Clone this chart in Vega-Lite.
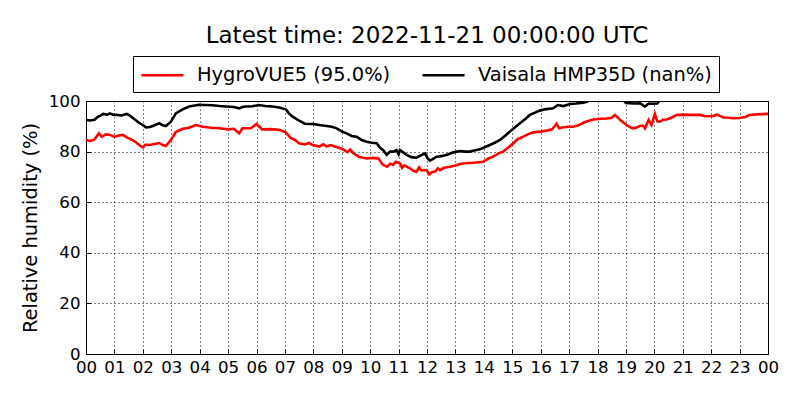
{
  "$schema": "https://vega.github.io/schema/vega-lite/v6.json",
  "description": "Relative humidity from two sensors over one day.",
  "width": 682,
  "height": 253,
  "autosize": {"type": "none"},
  "padding": {"left": 86, "top": 101, "right": 32, "bottom": 46},
  "title": {
    "text": "Latest time: 2022-11-21 00:00:00 UTC",
    "frame": "group",
    "anchor": "middle",
    "offset": 8,
    "fontSize": 23,
    "fontWeight": "normal",
    "color": "black"
  },
  "config": {
    "font": "DejaVu Sans",
    "view": {"stroke": "black", "strokeWidth": 1},
    "axis": {
      "labelFontSize": 16.67,
      "labelColor": "black",
      "labelFlush": false,
      "labelOverlap": false,
      "domain": false,
      "grid": true,
      "gridColor": "black",
      "gridDash": [1, 3],
      "gridOpacity": 1,
      "gridWidth": 1,
      "tickColor": "black",
      "tickSize": -5,
      "titleFontSize": 19.44,
      "titleFontWeight": "normal",
      "titleColor": "black"
    }
  },
  "data": {
    "values": [
      {"t": 0.0, "rh": 84.6, "sensor": "HygroVUE5 (95.0%)"},
      {"t": 0.15, "rh": 84.2, "sensor": "HygroVUE5 (95.0%)"},
      {"t": 0.3, "rh": 84.8, "sensor": "HygroVUE5 (95.0%)"},
      {"t": 0.45, "rh": 87.2, "sensor": "HygroVUE5 (95.0%)"},
      {"t": 0.55, "rh": 85.9, "sensor": "HygroVUE5 (95.0%)"},
      {"t": 0.7, "rh": 86.8, "sensor": "HygroVUE5 (95.0%)"},
      {"t": 0.85, "rh": 86.6, "sensor": "HygroVUE5 (95.0%)"},
      {"t": 1.0, "rh": 85.8, "sensor": "HygroVUE5 (95.0%)"},
      {"t": 1.15, "rh": 86.4, "sensor": "HygroVUE5 (95.0%)"},
      {"t": 1.3, "rh": 86.6, "sensor": "HygroVUE5 (95.0%)"},
      {"t": 1.45, "rh": 85.5, "sensor": "HygroVUE5 (95.0%)"},
      {"t": 1.6, "rh": 84.8, "sensor": "HygroVUE5 (95.0%)"},
      {"t": 1.78, "rh": 83.5, "sensor": "HygroVUE5 (95.0%)"},
      {"t": 1.9, "rh": 82.3, "sensor": "HygroVUE5 (95.0%)"},
      {"t": 2.0, "rh": 81.7, "sensor": "HygroVUE5 (95.0%)"},
      {"t": 2.1, "rh": 82.8, "sensor": "HygroVUE5 (95.0%)"},
      {"t": 2.23, "rh": 82.6, "sensor": "HygroVUE5 (95.0%)"},
      {"t": 2.4, "rh": 83.0, "sensor": "HygroVUE5 (95.0%)"},
      {"t": 2.58, "rh": 83.4, "sensor": "HygroVUE5 (95.0%)"},
      {"t": 2.7, "rh": 82.6, "sensor": "HygroVUE5 (95.0%)"},
      {"t": 2.81, "rh": 82.2, "sensor": "HygroVUE5 (95.0%)"},
      {"t": 2.99, "rh": 84.6, "sensor": "HygroVUE5 (95.0%)"},
      {"t": 3.16, "rh": 87.7, "sensor": "HygroVUE5 (95.0%)"},
      {"t": 3.4, "rh": 89.0, "sensor": "HygroVUE5 (95.0%)"},
      {"t": 3.6, "rh": 89.3, "sensor": "HygroVUE5 (95.0%)"},
      {"t": 3.86, "rh": 90.5, "sensor": "HygroVUE5 (95.0%)"},
      {"t": 4.1, "rh": 89.8, "sensor": "HygroVUE5 (95.0%)"},
      {"t": 4.4, "rh": 89.4, "sensor": "HygroVUE5 (95.0%)"},
      {"t": 4.69, "rh": 89.2, "sensor": "HygroVUE5 (95.0%)"},
      {"t": 5.0, "rh": 88.8, "sensor": "HygroVUE5 (95.0%)"},
      {"t": 5.2, "rh": 89.0, "sensor": "HygroVUE5 (95.0%)"},
      {"t": 5.39, "rh": 87.2, "sensor": "HygroVUE5 (95.0%)"},
      {"t": 5.5, "rh": 89.2, "sensor": "HygroVUE5 (95.0%)"},
      {"t": 5.8, "rh": 89.2, "sensor": "HygroVUE5 (95.0%)"},
      {"t": 6.0, "rh": 90.9, "sensor": "HygroVUE5 (95.0%)"},
      {"t": 6.2, "rh": 88.8, "sensor": "HygroVUE5 (95.0%)"},
      {"t": 6.5, "rh": 88.9, "sensor": "HygroVUE5 (95.0%)"},
      {"t": 6.8, "rh": 88.6, "sensor": "HygroVUE5 (95.0%)"},
      {"t": 7.03, "rh": 87.6, "sensor": "HygroVUE5 (95.0%)"},
      {"t": 7.2, "rh": 85.4, "sensor": "HygroVUE5 (95.0%)"},
      {"t": 7.35, "rh": 84.6, "sensor": "HygroVUE5 (95.0%)"},
      {"t": 7.5, "rh": 83.3, "sensor": "HygroVUE5 (95.0%)"},
      {"t": 7.7, "rh": 82.8, "sensor": "HygroVUE5 (95.0%)"},
      {"t": 7.85, "rh": 83.4, "sensor": "HygroVUE5 (95.0%)"},
      {"t": 7.98, "rh": 82.6, "sensor": "HygroVUE5 (95.0%)"},
      {"t": 8.21, "rh": 82.0, "sensor": "HygroVUE5 (95.0%)"},
      {"t": 8.35, "rh": 82.9, "sensor": "HygroVUE5 (95.0%)"},
      {"t": 8.47, "rh": 82.0, "sensor": "HygroVUE5 (95.0%)"},
      {"t": 8.6, "rh": 82.6, "sensor": "HygroVUE5 (95.0%)"},
      {"t": 8.82, "rh": 81.8, "sensor": "HygroVUE5 (95.0%)"},
      {"t": 9.05, "rh": 80.9, "sensor": "HygroVUE5 (95.0%)"},
      {"t": 9.2, "rh": 79.8, "sensor": "HygroVUE5 (95.0%)"},
      {"t": 9.3, "rh": 80.8, "sensor": "HygroVUE5 (95.0%)"},
      {"t": 9.41, "rh": 79.3, "sensor": "HygroVUE5 (95.0%)"},
      {"t": 9.6, "rh": 78.0, "sensor": "HygroVUE5 (95.0%)"},
      {"t": 9.88, "rh": 77.3, "sensor": "HygroVUE5 (95.0%)"},
      {"t": 10.1, "rh": 77.5, "sensor": "HygroVUE5 (95.0%)"},
      {"t": 10.29, "rh": 77.3, "sensor": "HygroVUE5 (95.0%)"},
      {"t": 10.4, "rh": 75.5, "sensor": "HygroVUE5 (95.0%)"},
      {"t": 10.46, "rh": 74.7, "sensor": "HygroVUE5 (95.0%)"},
      {"t": 10.6, "rh": 74.0, "sensor": "HygroVUE5 (95.0%)"},
      {"t": 10.7, "rh": 75.2, "sensor": "HygroVUE5 (95.0%)"},
      {"t": 10.81, "rh": 74.7, "sensor": "HygroVUE5 (95.0%)"},
      {"t": 10.9, "rh": 76.0, "sensor": "HygroVUE5 (95.0%)"},
      {"t": 11.05, "rh": 75.4, "sensor": "HygroVUE5 (95.0%)"},
      {"t": 11.12, "rh": 73.6, "sensor": "HygroVUE5 (95.0%)"},
      {"t": 11.2, "rh": 74.6, "sensor": "HygroVUE5 (95.0%)"},
      {"t": 11.4, "rh": 73.4, "sensor": "HygroVUE5 (95.0%)"},
      {"t": 11.5, "rh": 72.5, "sensor": "HygroVUE5 (95.0%)"},
      {"t": 11.63, "rh": 72.0, "sensor": "HygroVUE5 (95.0%)"},
      {"t": 11.72, "rh": 73.8, "sensor": "HygroVUE5 (95.0%)"},
      {"t": 11.8, "rh": 72.6, "sensor": "HygroVUE5 (95.0%)"},
      {"t": 11.99, "rh": 72.7, "sensor": "HygroVUE5 (95.0%)"},
      {"t": 12.08, "rh": 71.0, "sensor": "HygroVUE5 (95.0%)"},
      {"t": 12.16, "rh": 71.8, "sensor": "HygroVUE5 (95.0%)"},
      {"t": 12.3, "rh": 72.2, "sensor": "HygroVUE5 (95.0%)"},
      {"t": 12.38, "rh": 73.4, "sensor": "HygroVUE5 (95.0%)"},
      {"t": 12.46, "rh": 72.7, "sensor": "HygroVUE5 (95.0%)"},
      {"t": 12.6, "rh": 73.6, "sensor": "HygroVUE5 (95.0%)"},
      {"t": 12.81, "rh": 74.0, "sensor": "HygroVUE5 (95.0%)"},
      {"t": 13.0, "rh": 74.5, "sensor": "HygroVUE5 (95.0%)"},
      {"t": 13.16, "rh": 75.1, "sensor": "HygroVUE5 (95.0%)"},
      {"t": 13.4, "rh": 75.5, "sensor": "HygroVUE5 (95.0%)"},
      {"t": 13.63, "rh": 75.6, "sensor": "HygroVUE5 (95.0%)"},
      {"t": 13.98, "rh": 76.0, "sensor": "HygroVUE5 (95.0%)"},
      {"t": 14.15, "rh": 77.2, "sensor": "HygroVUE5 (95.0%)"},
      {"t": 14.33, "rh": 78.0, "sensor": "HygroVUE5 (95.0%)"},
      {"t": 14.5, "rh": 79.2, "sensor": "HygroVUE5 (95.0%)"},
      {"t": 14.68, "rh": 80.0, "sensor": "HygroVUE5 (95.0%)"},
      {"t": 14.85, "rh": 81.5, "sensor": "HygroVUE5 (95.0%)"},
      {"t": 15.04, "rh": 83.3, "sensor": "HygroVUE5 (95.0%)"},
      {"t": 15.2, "rh": 85.0, "sensor": "HygroVUE5 (95.0%)"},
      {"t": 15.39, "rh": 85.9, "sensor": "HygroVUE5 (95.0%)"},
      {"t": 15.55, "rh": 86.8, "sensor": "HygroVUE5 (95.0%)"},
      {"t": 15.74, "rh": 87.6, "sensor": "HygroVUE5 (95.0%)"},
      {"t": 16.0, "rh": 87.9, "sensor": "HygroVUE5 (95.0%)"},
      {"t": 16.2, "rh": 88.3, "sensor": "HygroVUE5 (95.0%)"},
      {"t": 16.4, "rh": 88.8, "sensor": "HygroVUE5 (95.0%)"},
      {"t": 16.56, "rh": 91.0, "sensor": "HygroVUE5 (95.0%)"},
      {"t": 16.65, "rh": 89.2, "sensor": "HygroVUE5 (95.0%)"},
      {"t": 16.79, "rh": 89.6, "sensor": "HygroVUE5 (95.0%)"},
      {"t": 17.0, "rh": 89.8, "sensor": "HygroVUE5 (95.0%)"},
      {"t": 17.15, "rh": 89.8, "sensor": "HygroVUE5 (95.0%)"},
      {"t": 17.35, "rh": 90.5, "sensor": "HygroVUE5 (95.0%)"},
      {"t": 17.5, "rh": 91.4, "sensor": "HygroVUE5 (95.0%)"},
      {"t": 17.7, "rh": 92.2, "sensor": "HygroVUE5 (95.0%)"},
      {"t": 17.85, "rh": 92.7, "sensor": "HygroVUE5 (95.0%)"},
      {"t": 18.1, "rh": 93.0, "sensor": "HygroVUE5 (95.0%)"},
      {"t": 18.32, "rh": 93.1, "sensor": "HygroVUE5 (95.0%)"},
      {"t": 18.5, "rh": 93.4, "sensor": "HygroVUE5 (95.0%)"},
      {"t": 18.61, "rh": 94.5, "sensor": "HygroVUE5 (95.0%)"},
      {"t": 18.7, "rh": 93.6, "sensor": "HygroVUE5 (95.0%)"},
      {"t": 18.8, "rh": 92.5, "sensor": "HygroVUE5 (95.0%)"},
      {"t": 19.02, "rh": 90.5, "sensor": "HygroVUE5 (95.0%)"},
      {"t": 19.15, "rh": 89.6, "sensor": "HygroVUE5 (95.0%)"},
      {"t": 19.26, "rh": 89.2, "sensor": "HygroVUE5 (95.0%)"},
      {"t": 19.4, "rh": 89.6, "sensor": "HygroVUE5 (95.0%)"},
      {"t": 19.49, "rh": 90.1, "sensor": "HygroVUE5 (95.0%)"},
      {"t": 19.6, "rh": 90.3, "sensor": "HygroVUE5 (95.0%)"},
      {"t": 19.67, "rh": 89.2, "sensor": "HygroVUE5 (95.0%)"},
      {"t": 19.8, "rh": 92.5, "sensor": "HygroVUE5 (95.0%)"},
      {"t": 19.9, "rh": 90.5, "sensor": "HygroVUE5 (95.0%)"},
      {"t": 20.02, "rh": 94.9, "sensor": "HygroVUE5 (95.0%)"},
      {"t": 20.1, "rh": 92.0, "sensor": "HygroVUE5 (95.0%)"},
      {"t": 20.2, "rh": 91.8, "sensor": "HygroVUE5 (95.0%)"},
      {"t": 20.3, "rh": 92.6, "sensor": "HygroVUE5 (95.0%)"},
      {"t": 20.43, "rh": 92.7, "sensor": "HygroVUE5 (95.0%)"},
      {"t": 20.6, "rh": 93.4, "sensor": "HygroVUE5 (95.0%)"},
      {"t": 20.78, "rh": 94.5, "sensor": "HygroVUE5 (95.0%)"},
      {"t": 21.0, "rh": 94.6, "sensor": "HygroVUE5 (95.0%)"},
      {"t": 21.3, "rh": 94.5, "sensor": "HygroVUE5 (95.0%)"},
      {"t": 21.6, "rh": 94.5, "sensor": "HygroVUE5 (95.0%)"},
      {"t": 21.8, "rh": 94.0, "sensor": "HygroVUE5 (95.0%)"},
      {"t": 22.07, "rh": 94.1, "sensor": "HygroVUE5 (95.0%)"},
      {"t": 22.2, "rh": 94.6, "sensor": "HygroVUE5 (95.0%)"},
      {"t": 22.43, "rh": 93.5, "sensor": "HygroVUE5 (95.0%)"},
      {"t": 22.6, "rh": 93.4, "sensor": "HygroVUE5 (95.0%)"},
      {"t": 22.8, "rh": 93.2, "sensor": "HygroVUE5 (95.0%)"},
      {"t": 23.0, "rh": 93.3, "sensor": "HygroVUE5 (95.0%)"},
      {"t": 23.2, "rh": 93.7, "sensor": "HygroVUE5 (95.0%)"},
      {"t": 23.36, "rh": 94.5, "sensor": "HygroVUE5 (95.0%)"},
      {"t": 23.6, "rh": 94.7, "sensor": "HygroVUE5 (95.0%)"},
      {"t": 24.0, "rh": 94.9, "sensor": "HygroVUE5 (95.0%)"},
      {"t": 0.0, "rh": 92.5, "sensor": "Vaisala HMP35D (nan%)"},
      {"t": 0.15, "rh": 92.3, "sensor": "Vaisala HMP35D (nan%)"},
      {"t": 0.3, "rh": 92.6, "sensor": "Vaisala HMP35D (nan%)"},
      {"t": 0.4, "rh": 93.6, "sensor": "Vaisala HMP35D (nan%)"},
      {"t": 0.49, "rh": 94.1, "sensor": "Vaisala HMP35D (nan%)"},
      {"t": 0.61, "rh": 94.9, "sensor": "Vaisala HMP35D (nan%)"},
      {"t": 0.75, "rh": 94.6, "sensor": "Vaisala HMP35D (nan%)"},
      {"t": 0.84, "rh": 95.1, "sensor": "Vaisala HMP35D (nan%)"},
      {"t": 0.95, "rh": 94.6, "sensor": "Vaisala HMP35D (nan%)"},
      {"t": 1.08, "rh": 94.5, "sensor": "Vaisala HMP35D (nan%)"},
      {"t": 1.25, "rh": 94.3, "sensor": "Vaisala HMP35D (nan%)"},
      {"t": 1.43, "rh": 94.9, "sensor": "Vaisala HMP35D (nan%)"},
      {"t": 1.55, "rh": 94.2, "sensor": "Vaisala HMP35D (nan%)"},
      {"t": 1.66, "rh": 93.2, "sensor": "Vaisala HMP35D (nan%)"},
      {"t": 1.84, "rh": 91.6, "sensor": "Vaisala HMP35D (nan%)"},
      {"t": 2.0, "rh": 90.5, "sensor": "Vaisala HMP35D (nan%)"},
      {"t": 2.11, "rh": 89.6, "sensor": "Vaisala HMP35D (nan%)"},
      {"t": 2.25, "rh": 89.7, "sensor": "Vaisala HMP35D (nan%)"},
      {"t": 2.35, "rh": 90.1, "sensor": "Vaisala HMP35D (nan%)"},
      {"t": 2.45, "rh": 90.6, "sensor": "Vaisala HMP35D (nan%)"},
      {"t": 2.58, "rh": 91.2, "sensor": "Vaisala HMP35D (nan%)"},
      {"t": 2.7, "rh": 90.4, "sensor": "Vaisala HMP35D (nan%)"},
      {"t": 2.81, "rh": 90.1, "sensor": "Vaisala HMP35D (nan%)"},
      {"t": 2.99, "rh": 91.8, "sensor": "Vaisala HMP35D (nan%)"},
      {"t": 3.16, "rh": 95.1, "sensor": "Vaisala HMP35D (nan%)"},
      {"t": 3.4, "rh": 96.7, "sensor": "Vaisala HMP35D (nan%)"},
      {"t": 3.63, "rh": 97.8, "sensor": "Vaisala HMP35D (nan%)"},
      {"t": 3.98, "rh": 98.5, "sensor": "Vaisala HMP35D (nan%)"},
      {"t": 4.2, "rh": 98.4, "sensor": "Vaisala HMP35D (nan%)"},
      {"t": 4.45, "rh": 98.3, "sensor": "Vaisala HMP35D (nan%)"},
      {"t": 4.7, "rh": 98.0, "sensor": "Vaisala HMP35D (nan%)"},
      {"t": 4.92, "rh": 97.8, "sensor": "Vaisala HMP35D (nan%)"},
      {"t": 5.2, "rh": 97.6, "sensor": "Vaisala HMP35D (nan%)"},
      {"t": 5.39, "rh": 97.1, "sensor": "Vaisala HMP35D (nan%)"},
      {"t": 5.5, "rh": 97.6, "sensor": "Vaisala HMP35D (nan%)"},
      {"t": 5.62, "rh": 97.8, "sensor": "Vaisala HMP35D (nan%)"},
      {"t": 5.85, "rh": 97.9, "sensor": "Vaisala HMP35D (nan%)"},
      {"t": 6.09, "rh": 98.4, "sensor": "Vaisala HMP35D (nan%)"},
      {"t": 6.3, "rh": 98.0, "sensor": "Vaisala HMP35D (nan%)"},
      {"t": 6.56, "rh": 97.8, "sensor": "Vaisala HMP35D (nan%)"},
      {"t": 6.8, "rh": 97.4, "sensor": "Vaisala HMP35D (nan%)"},
      {"t": 7.03, "rh": 96.7, "sensor": "Vaisala HMP35D (nan%)"},
      {"t": 7.15, "rh": 95.0, "sensor": "Vaisala HMP35D (nan%)"},
      {"t": 7.27, "rh": 93.8, "sensor": "Vaisala HMP35D (nan%)"},
      {"t": 7.5, "rh": 92.2, "sensor": "Vaisala HMP35D (nan%)"},
      {"t": 7.7, "rh": 91.0, "sensor": "Vaisala HMP35D (nan%)"},
      {"t": 7.86, "rh": 90.9, "sensor": "Vaisala HMP35D (nan%)"},
      {"t": 8.0, "rh": 90.9, "sensor": "Vaisala HMP35D (nan%)"},
      {"t": 8.21, "rh": 90.5, "sensor": "Vaisala HMP35D (nan%)"},
      {"t": 8.47, "rh": 90.1, "sensor": "Vaisala HMP35D (nan%)"},
      {"t": 8.65, "rh": 89.8, "sensor": "Vaisala HMP35D (nan%)"},
      {"t": 8.82, "rh": 89.2, "sensor": "Vaisala HMP35D (nan%)"},
      {"t": 9.0, "rh": 88.0, "sensor": "Vaisala HMP35D (nan%)"},
      {"t": 9.17, "rh": 87.2, "sensor": "Vaisala HMP35D (nan%)"},
      {"t": 9.35, "rh": 86.2, "sensor": "Vaisala HMP35D (nan%)"},
      {"t": 9.52, "rh": 85.9, "sensor": "Vaisala HMP35D (nan%)"},
      {"t": 9.7, "rh": 84.6, "sensor": "Vaisala HMP35D (nan%)"},
      {"t": 9.88, "rh": 83.9, "sensor": "Vaisala HMP35D (nan%)"},
      {"t": 10.05, "rh": 83.5, "sensor": "Vaisala HMP35D (nan%)"},
      {"t": 10.23, "rh": 83.3, "sensor": "Vaisala HMP35D (nan%)"},
      {"t": 10.35, "rh": 81.5, "sensor": "Vaisala HMP35D (nan%)"},
      {"t": 10.46, "rh": 80.6, "sensor": "Vaisala HMP35D (nan%)"},
      {"t": 10.58, "rh": 78.7, "sensor": "Vaisala HMP35D (nan%)"},
      {"t": 10.7, "rh": 80.0, "sensor": "Vaisala HMP35D (nan%)"},
      {"t": 10.81, "rh": 80.0, "sensor": "Vaisala HMP35D (nan%)"},
      {"t": 10.93, "rh": 80.6, "sensor": "Vaisala HMP35D (nan%)"},
      {"t": 11.0, "rh": 79.0, "sensor": "Vaisala HMP35D (nan%)"},
      {"t": 11.05, "rh": 80.6, "sensor": "Vaisala HMP35D (nan%)"},
      {"t": 11.15, "rh": 79.8, "sensor": "Vaisala HMP35D (nan%)"},
      {"t": 11.28, "rh": 78.7, "sensor": "Vaisala HMP35D (nan%)"},
      {"t": 11.45, "rh": 77.8, "sensor": "Vaisala HMP35D (nan%)"},
      {"t": 11.63, "rh": 77.6, "sensor": "Vaisala HMP35D (nan%)"},
      {"t": 11.75, "rh": 78.3, "sensor": "Vaisala HMP35D (nan%)"},
      {"t": 11.93, "rh": 79.3, "sensor": "Vaisala HMP35D (nan%)"},
      {"t": 12.02, "rh": 77.4, "sensor": "Vaisala HMP35D (nan%)"},
      {"t": 12.1, "rh": 76.4, "sensor": "Vaisala HMP35D (nan%)"},
      {"t": 12.2, "rh": 77.0, "sensor": "Vaisala HMP35D (nan%)"},
      {"t": 12.34, "rh": 78.0, "sensor": "Vaisala HMP35D (nan%)"},
      {"t": 12.5, "rh": 78.2, "sensor": "Vaisala HMP35D (nan%)"},
      {"t": 12.69, "rh": 78.7, "sensor": "Vaisala HMP35D (nan%)"},
      {"t": 12.9, "rh": 79.6, "sensor": "Vaisala HMP35D (nan%)"},
      {"t": 13.16, "rh": 80.2, "sensor": "Vaisala HMP35D (nan%)"},
      {"t": 13.35, "rh": 80.0, "sensor": "Vaisala HMP35D (nan%)"},
      {"t": 13.51, "rh": 80.0, "sensor": "Vaisala HMP35D (nan%)"},
      {"t": 13.7, "rh": 80.5, "sensor": "Vaisala HMP35D (nan%)"},
      {"t": 13.86, "rh": 80.9, "sensor": "Vaisala HMP35D (nan%)"},
      {"t": 14.05, "rh": 81.8, "sensor": "Vaisala HMP35D (nan%)"},
      {"t": 14.21, "rh": 82.6, "sensor": "Vaisala HMP35D (nan%)"},
      {"t": 14.4, "rh": 83.6, "sensor": "Vaisala HMP35D (nan%)"},
      {"t": 14.57, "rh": 84.6, "sensor": "Vaisala HMP35D (nan%)"},
      {"t": 14.75, "rh": 86.3, "sensor": "Vaisala HMP35D (nan%)"},
      {"t": 14.92, "rh": 87.9, "sensor": "Vaisala HMP35D (nan%)"},
      {"t": 15.1, "rh": 89.6, "sensor": "Vaisala HMP35D (nan%)"},
      {"t": 15.27, "rh": 91.2, "sensor": "Vaisala HMP35D (nan%)"},
      {"t": 15.45, "rh": 92.8, "sensor": "Vaisala HMP35D (nan%)"},
      {"t": 15.62, "rh": 94.5, "sensor": "Vaisala HMP35D (nan%)"},
      {"t": 15.8, "rh": 95.4, "sensor": "Vaisala HMP35D (nan%)"},
      {"t": 15.97, "rh": 96.2, "sensor": "Vaisala HMP35D (nan%)"},
      {"t": 16.2, "rh": 96.8, "sensor": "Vaisala HMP35D (nan%)"},
      {"t": 16.44, "rh": 97.1, "sensor": "Vaisala HMP35D (nan%)"},
      {"t": 16.6, "rh": 98.4, "sensor": "Vaisala HMP35D (nan%)"},
      {"t": 16.8, "rh": 98.0, "sensor": "Vaisala HMP35D (nan%)"},
      {"t": 17.03, "rh": 98.8, "sensor": "Vaisala HMP35D (nan%)"},
      {"t": 17.25, "rh": 99.0, "sensor": "Vaisala HMP35D (nan%)"},
      {"t": 17.5, "rh": 99.3, "sensor": "Vaisala HMP35D (nan%)"},
      {"t": 17.65, "rh": 99.8, "sensor": "Vaisala HMP35D (nan%)"},
      {"t": 17.8, "rh": 101.5, "sensor": "Vaisala HMP35D (nan%)"},
      {"t": 18.3, "rh": 102.5, "sensor": "Vaisala HMP35D (nan%)"},
      {"t": 18.85, "rh": 101.0, "sensor": "Vaisala HMP35D (nan%)"},
      {"t": 19.0, "rh": 99.2, "sensor": "Vaisala HMP35D (nan%)"},
      {"t": 19.3, "rh": 99.0, "sensor": "Vaisala HMP35D (nan%)"},
      {"t": 19.5, "rh": 99.1, "sensor": "Vaisala HMP35D (nan%)"},
      {"t": 19.67, "rh": 97.8, "sensor": "Vaisala HMP35D (nan%)"},
      {"t": 19.8, "rh": 99.0, "sensor": "Vaisala HMP35D (nan%)"},
      {"t": 19.95, "rh": 98.9, "sensor": "Vaisala HMP35D (nan%)"},
      {"t": 20.1, "rh": 99.0, "sensor": "Vaisala HMP35D (nan%)"},
      {"t": 20.25, "rh": 101.0, "sensor": "Vaisala HMP35D (nan%)"},
      {"t": 21.0, "rh": 103.0, "sensor": "Vaisala HMP35D (nan%)"},
      {"t": 22.0, "rh": 104.0, "sensor": "Vaisala HMP35D (nan%)"},
      {"t": 23.0, "rh": 104.0, "sensor": "Vaisala HMP35D (nan%)"},
      {"t": 24.0, "rh": 104.0, "sensor": "Vaisala HMP35D (nan%)"}
    ]
  },
  "mark": {"type": "line", "strokeWidth": 2.6, "clip": true},
  "encoding": {
    "x": {
      "field": "t",
      "type": "quantitative",
      "scale": {"domain": [0, 24], "nice": false},
      "axis": {
        "title": null,
        "values": [0, 1, 2, 3, 4, 5, 6, 7, 8, 9, 10, 11, 12, 13, 14, 15, 16, 17, 18, 19, 20, 21, 22, 23, 24],
        "labelExpr": "format(datum.value % 24, '02d')",
        "labelPadding": 10
      }
    },
    "y": {
      "field": "rh",
      "type": "quantitative",
      "scale": {"domain": [0, 100], "nice": false},
      "axis": {
        "title": "Relative humidity (%)",
        "values": [0, 20, 40, 60, 80, 100],
        "labelPadding": 11,
        "titlePadding": 8
      }
    },
    "color": {
      "field": "sensor",
      "type": "nominal",
      "scale": {
        "domain": ["HygroVUE5 (95.0%)", "Vaisala HMP35D (nan%)"],
        "range": ["red", "black"]
      },
      "legend": {
        "title": null,
        "orient": "none",
        "legendX": 47,
        "legendY": -45,
        "direction": "horizontal",
        "strokeColor": "black",
        "fillColor": "white",
        "padding": 7,
        "cornerRadius": 0,
        "symbolType": "M-1,0H3",
        "symbolSize": 441,
        "symbolStrokeWidth": 2.6,
        "labelFontSize": 19.44,
        "labelColor": "black",
        "labelOffset": 33,
        "labelLimit": 400,
        "columnPadding": 26
      }
    }
  }
}
